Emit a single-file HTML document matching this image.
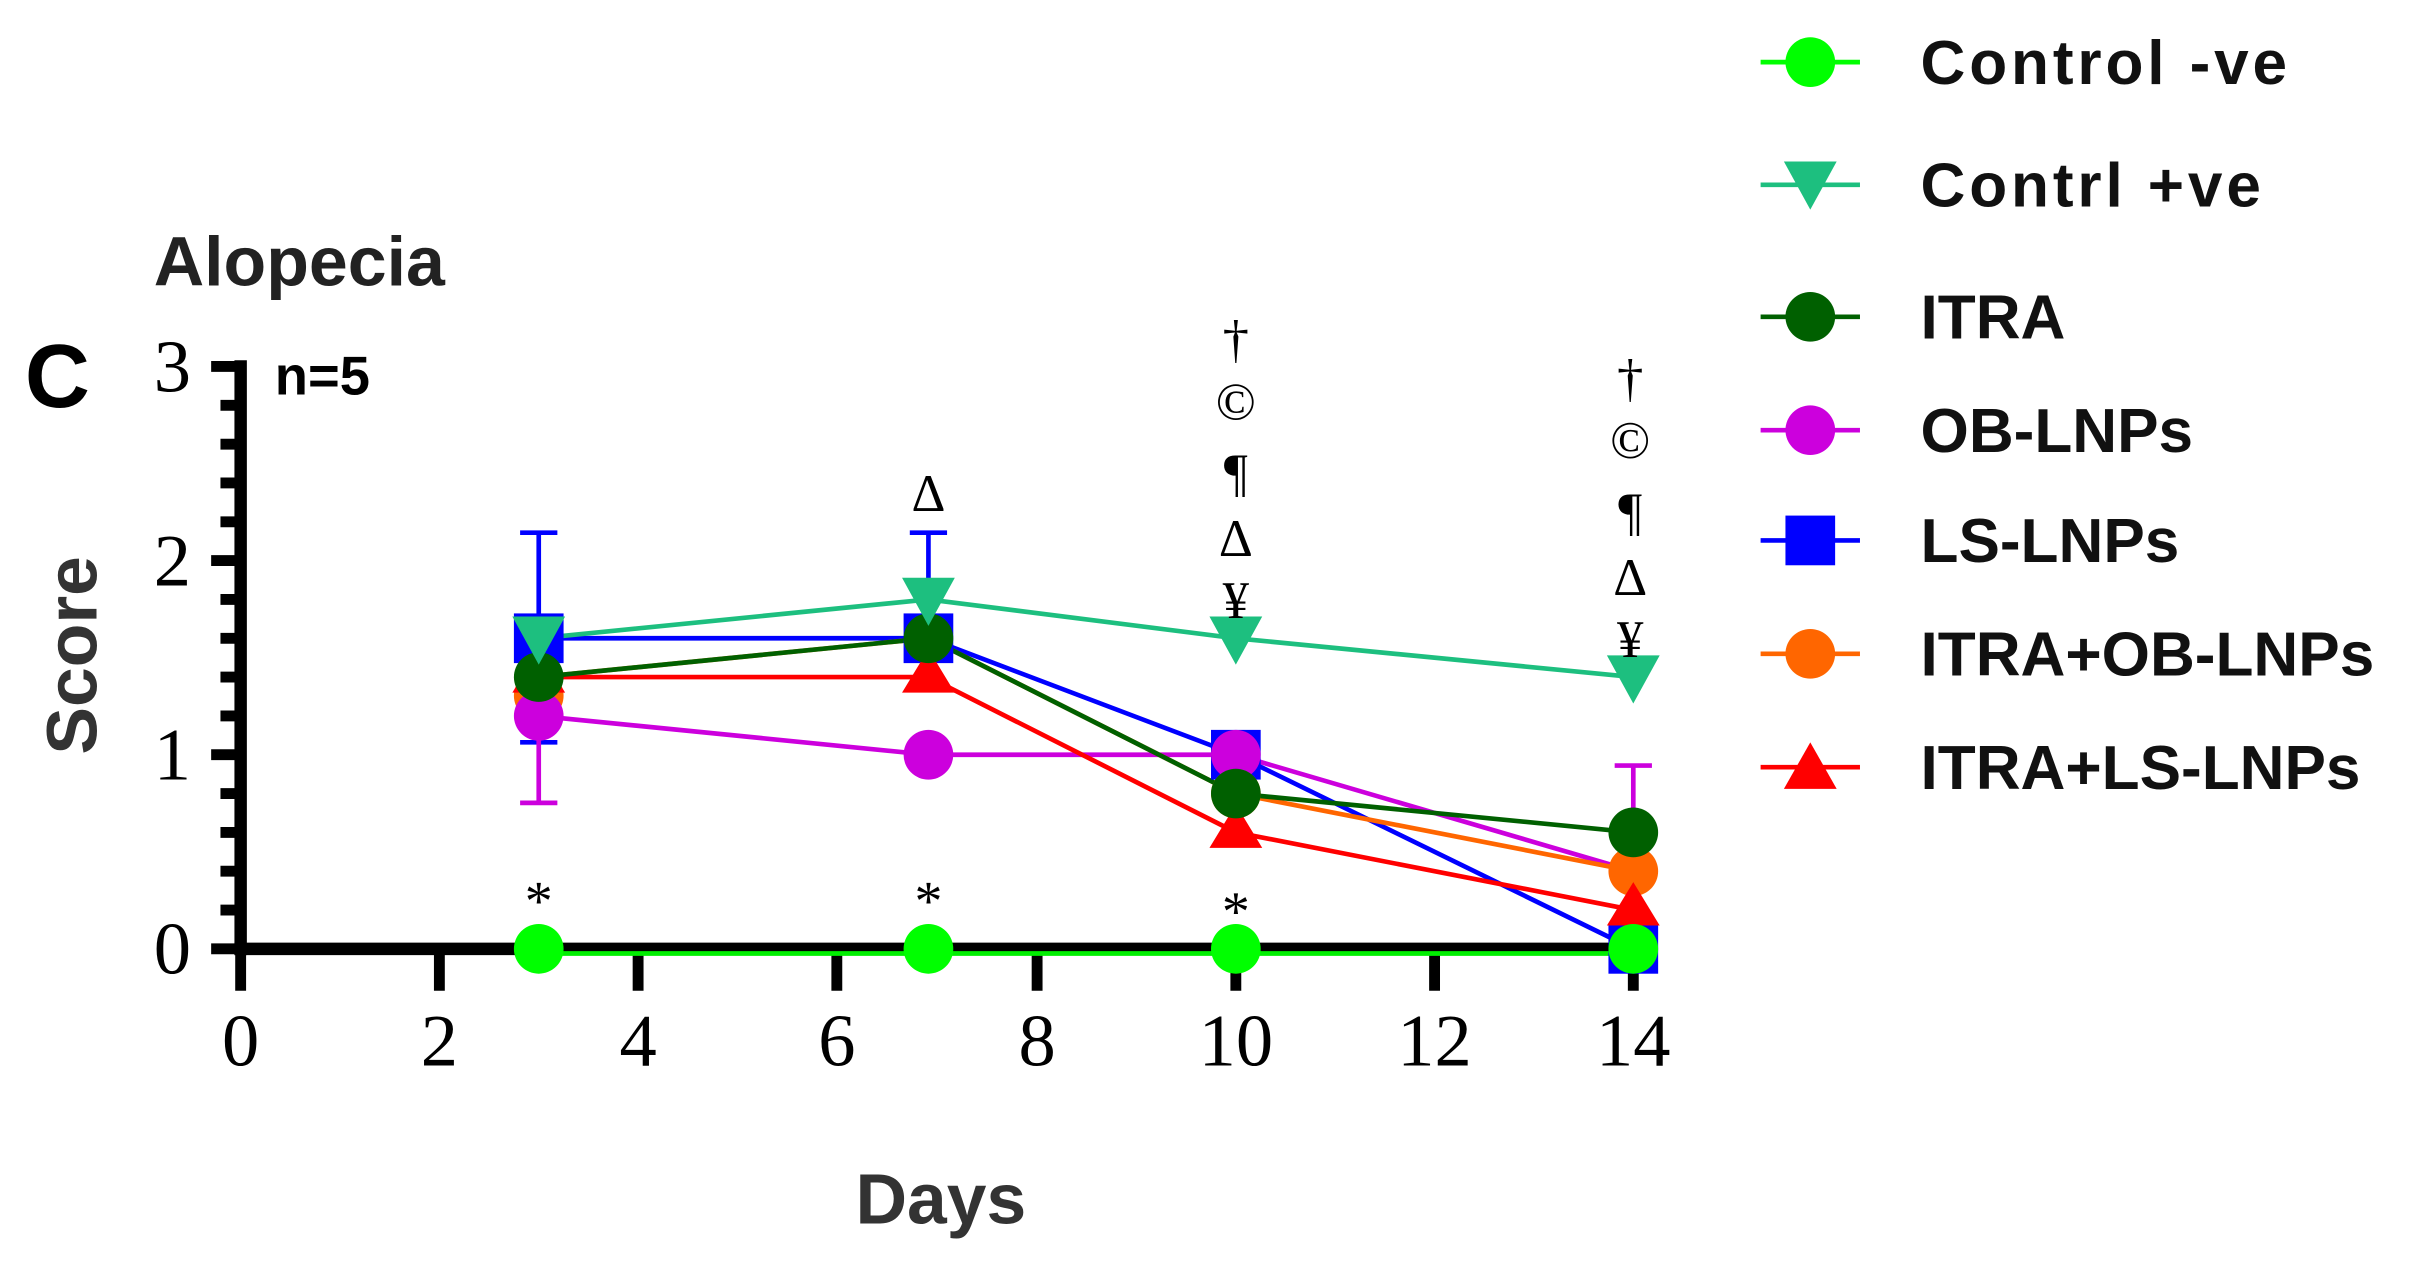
<!DOCTYPE html>
<html><head><style>html,body{margin:0;padding:0;background:#fff}svg{display:block}</style></head>
<body>
<svg width="2422" height="1261" viewBox="0 0 1560 812" preserveAspectRatio="none" xmlns="http://www.w3.org/2000/svg">
<rect width="1560" height="812" fill="#fff"/>
<g font-family="Liberation Sans, sans-serif" font-weight="bold">
<text x="16" y="262" font-size="58">C</text>
<text x="99" y="184" font-size="45" fill="#222">Alopecia</text>
<text x="177" y="254" font-size="35">n=5</text>
<text transform="translate(62,422) rotate(-90)" text-anchor="middle" font-size="46" fill="#333">Score</text>
<text x="606" y="788" text-anchor="middle" font-size="46" fill="#333">Days</text>
</g>
<g stroke="#000">
<line x1="155" y1="232" x2="155" y2="615" stroke-width="8"/>
<line x1="151" y1="611" x2="1056" y2="611" stroke-width="8"/>
<g stroke-width="7">
<line x1="136" y1="236" x2="155" y2="236"/><line x1="136" y1="361" x2="155" y2="361"/><line x1="136" y1="486" x2="155" y2="486"/><line x1="136" y1="611" x2="155" y2="611"/>
<line x1="142" y1="261" x2="155" y2="261"/><line x1="142" y1="286" x2="155" y2="286"/><line x1="142" y1="311" x2="155" y2="311"/><line x1="142" y1="336" x2="155" y2="336"/>
<line x1="142" y1="386" x2="155" y2="386"/><line x1="142" y1="411" x2="155" y2="411"/><line x1="142" y1="436" x2="155" y2="436"/><line x1="142" y1="461" x2="155" y2="461"/>
<line x1="142" y1="511" x2="155" y2="511"/><line x1="142" y1="536" x2="155" y2="536"/><line x1="142" y1="561" x2="155" y2="561"/><line x1="142" y1="586" x2="155" y2="586"/>
<line x1="155" y1="611" x2="155" y2="638"/><line x1="283" y1="611" x2="283" y2="638"/><line x1="411" y1="611" x2="411" y2="638"/><line x1="539" y1="611" x2="539" y2="638"/><line x1="668" y1="611" x2="668" y2="638"/><line x1="796" y1="611" x2="796" y2="638"/><line x1="924" y1="611" x2="924" y2="638"/><line x1="1052" y1="611" x2="1052" y2="638"/>
</g></g>
<g font-family="Liberation Serif, serif" font-size="48" text-anchor="middle">
<text x="111" y="252">3</text><text x="111" y="377">2</text><text x="111" y="502">1</text><text x="111" y="627">0</text>
<text x="155" y="686">0</text><text x="283" y="686">2</text><text x="411" y="686">4</text><text x="539" y="686">6</text><text x="668" y="686">8</text><text x="796" y="686">10</text><text x="924" y="686">12</text><text x="1052" y="686">14</text>
</g>
<g stroke-width="3" fill="none">
<path d="M347 411V343M335 343H359M347 411V478M335 478H359" stroke="#0000ff"/>
<path d="M598 411V343M586 343H610" stroke="#0000ff"/>
<path d="M347 461V517M335 517H359" stroke="#cc00dd"/>
<path d="M1052 561V493M1040 493H1064" stroke="#cc00dd"/>
</g>
<g fill="none" stroke-width="3">
<polyline points="347,411 598,411 796,486 1052,611" stroke="#0000ff"/>
<polyline points="347,461 598,486 796,486 1052,561" stroke="#cc00dd"/>
<polyline points="347,436 598,411 796,511 1052,561" stroke="#ff6600"/>
<polyline points="347,436 598,436 796,536 1052,586" stroke="#ff0000"/>
<polyline points="347,436 598,411 796,511 1052,536" stroke="#006000"/>
<polyline points="347,411 598,386 796,411 1052,436" stroke="#1dbf7f"/>
<polyline points="347,614 1052,614" stroke="#00ee00"/>
</g>
<g>
<rect x="331" y="395" width="32" height="32" fill="#0000ff"/><rect x="582" y="395" width="32" height="32" fill="#0000ff"/><rect x="780" y="470" width="32" height="32" fill="#0000ff"/><rect x="1036" y="595" width="32" height="32" fill="#0000ff"/>
<circle cx="347" cy="448" r="16" fill="#ff6600"/><circle cx="796" cy="511" r="16" fill="#ff6600"/><circle cx="1052" cy="561" r="16" fill="#ff6600"/>
<circle cx="347" cy="461" r="16" fill="#cc00dd"/><circle cx="598" cy="486" r="16" fill="#cc00dd"/><circle cx="796" cy="486" r="16" fill="#cc00dd"/>
<path d="M347 418L364 446H330Z M598 418L615 446H581Z M796 518L813 546H779Z M1052 568L1069 596H1035Z" fill="#ff0000"/>
<circle cx="347" cy="436" r="16" fill="#006000"/><circle cx="598" cy="411" r="16" fill="#006000"/><circle cx="796" cy="511" r="16" fill="#006000"/><circle cx="1052" cy="536" r="16" fill="#006000"/>
<path d="M330 397H364L347 428Z M581 372H615L598 403Z M779 397H813L796 428Z M1035 422H1069L1052 453Z" fill="#1dbf7f"/>
<circle cx="347" cy="611" r="16" fill="#00ff00"/><circle cx="598" cy="611" r="16" fill="#00ff00"/><circle cx="796" cy="611" r="16" fill="#00ff00"/><circle cx="1052" cy="611" r="16" fill="#00ff00"/>
</g>
<g font-family="Liberation Serif, DejaVu Serif, serif" font-size="34" text-anchor="middle">
<text x="796" y="230">†</text><text x="796" y="270">©</text><text x="796" y="316">¶</text><text x="796" y="358">Δ</text><text x="796" y="398">¥</text>
<text x="1050" y="255">†</text><text x="1050" y="295">©</text><text x="1050" y="341">¶</text><text x="1050" y="383">Δ</text><text x="1050" y="423">¥</text>
<text x="598" y="329">Δ</text>
<text x="347" y="592" font-size="36">*</text><text x="598" y="592" font-size="36">*</text><text x="796" y="599" font-size="36">*</text>
</g>
<g stroke-width="3">
<line x1="1134" y1="40" x2="1198" y2="40" stroke="#00ff00"/><circle cx="1166" cy="40" r="16" fill="#00ff00"/>
<line x1="1134" y1="119" x2="1198" y2="119" stroke="#1dbf7f"/><path d="M1149 104H1183L1166 135Z" fill="#1dbf7f"/>
<line x1="1134" y1="204" x2="1198" y2="204" stroke="#006000"/><circle cx="1166" cy="204" r="16" fill="#006000"/>
<line x1="1134" y1="277" x2="1198" y2="277" stroke="#cc00dd"/><circle cx="1166" cy="277" r="16" fill="#cc00dd"/>
<line x1="1134" y1="348" x2="1198" y2="348" stroke="#0000ff"/><rect x="1150" y="332" width="32" height="32" fill="#0000ff"/>
<line x1="1134" y1="421" x2="1198" y2="421" stroke="#ff6600"/><circle cx="1166" cy="421" r="16" fill="#ff6600"/>
<line x1="1134" y1="494" x2="1198" y2="494" stroke="#ff0000"/><path d="M1166 478L1183 508H1149Z" fill="#ff0000"/>
</g>
<g font-family="Liberation Sans, sans-serif" font-weight="bold" font-size="40" fill="#111">
<text x="1237" y="54" letter-spacing="2.5">Control -ve</text>
<text x="1237" y="133" letter-spacing="2.5">Contrl +ve</text>
<text x="1237" y="218">ITRA</text>
<text x="1237" y="291">OB-LNPs</text>
<text x="1237" y="362">LS-LNPs</text>
<text x="1237" y="435">ITRA+OB-LNPs</text>
<text x="1237" y="508">ITRA+LS-LNPs</text>
</g>
</svg>
</body></html>
